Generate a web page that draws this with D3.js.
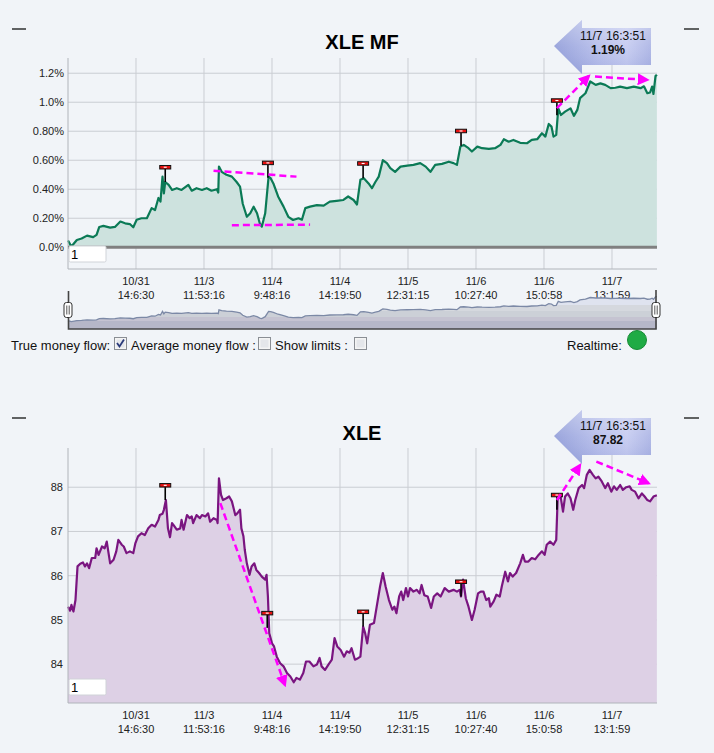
<!DOCTYPE html>
<html><head><meta charset="utf-8">
<script src="https://cdn.jsdelivr.net/npm/d3@7"></script>
<style>
body{margin:0;background:#f1f4f8;}
svg{display:block;font-family:"Liberation Sans",Arial,sans-serif;}
</style>
</head><body>
<svg id="c" width="714" height="753"></svg>
<script>
// ---------- DATA ----------
// x position in "slot" units (100 = first labelled tick)
const mfTime = [0,5,13,20,28,37,42,46,52,62,69,77,84,91,96,101,108,116,123,128,133,136,139,141,143,148,153,160,167,177,182,189,197,204,211,219,221,222,226,233,241,248,253,257,263,268,273,278,282,285,290,295,298,302,309,317,324,331,339,344,349,356,366,376,385,395,405,412,420,425,430,435,442,447,452,457,463,469,474,481,489,499,508,518,526,533,540,550,560,567,572,577,582,589,594,602,609,619,628,636,641,648,655,665,675,682,690,697,702,707,711,714,718,721,725,731,739,744,749,753,761,768,776,783,790,798,805,812,822,832,842,847,852,856,859,861,864,866];
const mfValue = [0.046,0.005,0.05,0.06,0.08,0.07,0.085,0.14,0.147,0.135,0.14,0.177,0.165,0.16,0.138,0.19,0.2,0.2,0.27,0.257,0.34,0.315,0.487,0.372,0.45,0.43,0.395,0.407,0.395,0.43,0.39,0.407,0.395,0.407,0.39,0.4,0.377,0.556,0.52,0.5,0.487,0.45,0.418,0.30,0.21,0.234,0.28,0.234,0.165,0.142,0.234,0.487,0.476,0.44,0.35,0.28,0.21,0.188,0.2,0.19,0.27,0.28,0.29,0.287,0.315,0.32,0.326,0.35,0.326,0.295,0.465,0.476,0.44,0.407,0.45,0.487,0.60,0.58,0.545,0.52,0.556,0.563,0.568,0.58,0.556,0.52,0.568,0.575,0.59,0.58,0.568,0.694,0.706,0.683,0.66,0.694,0.683,0.678,0.683,0.706,0.745,0.728,0.74,0.72,0.717,0.74,0.745,0.786,0.763,0.85,0.832,0.763,0.775,0.958,0.912,0.935,0.958,0.906,0.947,1.028,1.062,1.143,1.12,1.13,1.12,1.097,1.10,1.108,1.097,1.108,1.097,1.11,1.062,1.067,1.108,1.057,1.18,1.19];

const pxTime = [0,3,5,8,11,14,18,22,25,28,31,35,40,42,45,50,54,57,62,67,71,74,79,82,86,91,96,99,103,108,113,118,123,128,133,135,139,141,144,147,150,153,155,160,165,167,170,175,179,182,184,189,194,197,202,206,209,214,219,220,222,225,228,233,237,241,243,246,249,253,255,258,260,263,267,270,274,277,281,285,290,292,294,296,300,303,307,312,317,322,327,332,336,341,346,350,355,361,366,370,373,378,383,388,392,396,401,406,410,414,417,422,425,430,434,437,440,444,450,454,459,463,467,472,477,480,483,487,490,493,497,500,503,508,513,517,520,524,529,534,538,543,548,554,560,567,572,576,578,581,585,589,594,598,603,607,611,615,619,621,626,630,635,638,643,647,650,654,659,665,669,672,677,682,687,692,697,701,704,709,714,718,720,724,728,731,735,739,743,746,751,756,759,763,767,772,776,780,785,790,794,799,803,807,812,816,821,826,829,834,839,844,848,852,856,861,866];
const pxValue = [85.30,85.21,85.34,85.19,85.45,86.21,86.27,86.30,86.21,86.28,86.17,86.40,86.40,86.62,86.47,86.66,86.62,86.77,86.28,86.36,86.55,86.81,86.70,86.66,86.51,86.55,86.51,86.73,86.89,86.96,86.92,87.07,87.15,87.11,87.26,87.37,87.40,87.49,87.71,87.07,86.87,87.19,87.15,87.04,87.07,87.26,87.04,87.37,87.30,87.34,87.19,87.37,87.30,87.37,87.34,87.41,87.22,87.30,87.26,87.19,88.20,87.83,87.71,87.75,87.79,87.68,87.56,87.37,87.41,87.49,87.07,86.89,86.58,86.28,86.02,86.21,86.28,86.13,86.06,85.98,85.91,86.02,85.53,84.70,84.47,84.40,84.17,84.02,83.95,83.80,83.72,83.59,83.69,83.65,83.80,84.06,84.06,83.95,83.99,84.14,83.95,83.87,83.99,84.10,84.59,84.40,84.32,84.17,84.29,84.26,84.36,84.10,84.12,84.17,84.85,84.70,84.47,84.89,84.93,85.30,85.76,86.06,85.76,85.45,85.23,85.30,85.15,85.53,85.64,85.45,85.72,85.53,85.72,85.64,85.68,85.60,85.79,85.56,85.53,85.27,85.53,85.60,85.53,85.72,85.64,85.68,85.64,85.68,85.53,85.91,85.49,85.30,85.00,85.23,85.60,85.64,85.64,85.45,85.49,85.30,85.42,85.57,85.53,85.76,86.09,85.87,86.06,85.98,86.06,86.28,86.47,86.32,86.32,86.40,86.37,86.47,86.55,86.47,86.70,86.77,86.70,86.81,87.71,87.83,87.45,87.79,87.86,87.75,87.49,87.71,87.98,88.05,87.98,88.28,88.39,88.28,88.20,88.24,88.13,87.98,88.09,87.90,88.02,87.94,88.05,87.94,88.00,88.02,87.94,87.90,87.75,87.86,87.79,87.71,87.68,87.79,87.82];

const tickPos  = [100,200,300,400,500,600,700,800];
const tickDate = ["10/31","11/3","11/4","11/4","11/5","11/6","11/6","11/7"];
const tickTime = ["14:6:30","11:53:16","9:48:16","14:19:50","12:31:15","10:27:40","15:0:58","13:1:59"];
const lastLabel = "11/7 16:3:51";

const mfTicks = [0,0.2,0.4,0.6,0.8,1.0,1.2];
const mfTickText = ["0.0%","0.20%","0.40%","0.60%","0.80%","1.0%","1.2%"];
const pxTicks = [84,85,86,87,88];

const mfFlagTime = [143,294,434,578,719];
const mfFlagValue = [0.45,0.48,0.476,0.70,0.91];
const pxFlagTime = [143,293,434,578,719];
const pxFlagValue = [87.71,84.82,84.85,85.53,87.49];

// magenta annotations [t1, v1, t2, v2, arrowhead]
const mfNotes = [[214,0.528,336,0.487,0],[241,0.152,356,0.156,0],[719,0.959,766,1.181,1],[775,1.177,852,1.154,1]];
const pxNotes = [[224,87.64,319,83.53,1],[719,87.71,753,88.50,1],[777,88.58,854,88.09,1]];

// ---------- DRAW ----------
const svg = d3.select("#c");
svg.append("rect").attr("width",714).attr("height",753).attr("fill","#f1f4f8");
const defs = svg.append("defs");
defs.append("marker").attr("id","ah").attr("viewBox","0 0 10 10").attr("refX",8).attr("refY",5)
  .attr("markerWidth",12).attr("markerHeight",12).attr("markerUnits","userSpaceOnUse").attr("orient","auto")
  .append("path").attr("d","M0,0L10,5L0,10Z").attr("fill","#ff00ff");
const cg = defs.append("linearGradient").attr("id","callG").attr("x1","0").attr("x2","1").attr("y1","0").attr("y2","0");
cg.append("stop").attr("offset","0").attr("stop-color","#8f9bd8");
cg.append("stop").attr("offset","0.45").attr("stop-color","#b3bbea");
cg.append("stop").attr("offset","0.75").attr("stop-color","#c3c9f0");
cg.append("stop").attr("offset","1").attr("stop-color","#a9b2e4");
const cg2 = defs.append("linearGradient").attr("id","callG2").attr("x1","0").attr("x2","0").attr("y1","0").attr("y2","1");
cg2.append("stop").attr("offset","0").attr("stop-color","#ffffff").attr("stop-opacity","0.35");
cg2.append("stop").attr("offset","0.5").attr("stop-color","#ffffff").attr("stop-opacity","0.1");
cg2.append("stop").attr("offset","1").attr("stop-color","#5060b0").attr("stop-opacity","0.15");

const x = d3.scaleLinear().domain([0,866.2]).range([68,657]);

function dash(y){
  svg.append("line").attr("x1",12).attr("x2",26).attr("y1",y).attr("y2",y).attr("stroke","#000").attr("stroke-width",1.2);
  svg.append("line").attr("x1",684).attr("x2",699).attr("y1",y).attr("y2",y).attr("stroke","#000").attr("stroke-width",1.2);
}

function chart(o){
  const g = svg.append("g");
  const y = o.y;
  // grid
  g.selectAll(".hg").data(o.yTicks).join("line")
    .attr("x1",68).attr("x2",657).attr("y1",d=>y(d)).attr("y2",d=>y(d))
    .attr("stroke","#cacdd3").attr("stroke-width",1);
  g.selectAll(".vg").data(tickPos).join("line")
    .attr("x1",d=>x(d)).attr("x2",d=>x(d)).attr("y1",o.top).attr("y2",o.bottom)
    .attr("stroke","#cacdd3").attr("stroke-width",1);
  // area & line
  const data = o.t.map((t,i)=>[t,o.v[i]]);
  g.append("path").datum(data)
    .attr("d",d3.area().x(d=>x(d[0])).y0(o.base).y1(d=>y(d[1])))
    .attr("fill",o.fill);
  g.append("path").datum(data)
    .attr("d",d3.line().x(d=>x(d[0])).y(d=>y(d[1])))
    .attr("fill","none").attr("stroke",o.color).attr("stroke-width",2.2).attr("stroke-linejoin","round");
  // axes lines
  g.append("line").attr("x1",68).attr("x2",68).attr("y1",o.top).attr("y2",o.bottom).attr("stroke","#b0b4ba");
  g.append("line").attr("x1",68).attr("x2",657).attr("y1",o.bottom).attr("y2",o.bottom).attr("stroke","#b0b4ba");
  if(o.zero!==undefined){
    g.append("line").attr("x1",68).attr("x2",657).attr("y1",y(o.zero)).attr("y2",y(o.zero)).attr("stroke","#808080").attr("stroke-width",3);
  }
  // y labels
  g.selectAll(".yl").data(o.yTicks).join("text")
    .attr("x",o.labelX).attr("y",d=>y(d)+4).attr("text-anchor","end")
    .attr("font-size","11px").attr("fill","#222").text((d,i)=>o.yText[i]);
  // x labels
  const xl = g.selectAll(".xl").data(tickPos).join("text")
    .attr("text-anchor","middle").attr("font-size","11px").attr("fill","#222");
  xl.append("tspan").attr("x",d=>x(d)).attr("y",o.bottom+16).text((d,i)=>tickDate[i]);
  xl.append("tspan").attr("x",d=>x(d)).attr("y",o.bottom+30).text((d,i)=>tickTime[i]);
  // flags
  o.flagT.forEach((t,i)=>{
    const fx = x(t), fy = y(o.flagV[i]);
    g.append("line").attr("x1",fx).attr("x2",fx).attr("y1",fy).attr("y2",fy-13).attr("stroke","#000").attr("stroke-width",1.6);
    g.append("rect").attr("x",fx-5.5).attr("y",fy-16.5).attr("width",11).attr("height",3.5)
      .attr("fill","#e81010").attr("stroke","#111").attr("stroke-width",1);
    g.append("rect").attr("x",fx-1.5).attr("y",fy-15.3).attr("width",3).attr("height",1.1).attr("fill","#fff");
  });
  // annotations
  o.notes.forEach(n=>{
    const l = g.append("line").attr("x1",x(n[0])).attr("y1",y(n[1])).attr("x2",x(n[2])).attr("y2",y(n[3]))
      .attr("stroke","#ff00ff").attr("stroke-width",2.5).attr("stroke-dasharray","7,4");
    if(n[4]) l.attr("marker-end","url(#ah)");
  });
  // input box
  g.append("rect").attr("x",69).attr("y",o.boxY).attr("width",37).attr("height",16)
    .attr("fill","#fff").attr("stroke","#d0d3d8").attr("stroke-width",1).attr("rx",1.5);
  g.append("text").attr("x",71).attr("y",o.boxY+13).attr("font-size","13px").attr("fill","#000").text("1");
  // title
  svg.append("text").attr("x",362).attr("y",o.titleY).attr("text-anchor","middle")
    .attr("font-size","20px").attr("font-weight","bold").attr("fill","#000").text(o.title);
  // callout
  const b = o.callY;
  const pts = [[554,b+18],[582,b-8],[582,b],[651,b],[651,b+37],[582,b+37],[582,b+46]];
  const poly = "M"+pts.map(p=>p.join(",")).join("L")+"Z";
  svg.append("path").attr("d",poly).attr("fill","url(#callG)");
  svg.append("path").attr("d",poly).attr("fill","url(#callG2)");
  svg.append("text").attr("x",613).attr("y",b+12).attr("text-anchor","middle").attr("font-size","12px").attr("fill","#111").text(lastLabel);
  svg.append("text").attr("x",608).attr("y",b+26).attr("text-anchor","middle").attr("font-size","12px")
    .attr("font-weight","bold").attr("fill","#111").text(o.lastText);
  dash(o.dashY);
}

const yMF = d3.scaleLinear().domain([-0.15,1.305]).range([269,58]);
chart({y:yMF, top:58, bottom:269, base:yMF(0), zero:0, yTicks:mfTicks, yText:mfTickText, labelX:64,
  t:mfTime, v:mfValue, color:"#0b7a56", fill:"#cde2de", flagT:mfFlagTime, flagV:mfFlagValue, notes:mfNotes,
  boxY:246, title:"XLE MF", titleY:49, callY:28, lastText:d3.format(".2f")(mfValue[mfValue.length-1])+"%", dashY:29});

const yPX = d3.scaleLinear().domain([83.115,88.88]).range([703.3,448.3]);
chart({y:yPX, top:448, bottom:703, base:703, yTicks:pxTicks, yText:pxTicks.map(String), labelX:63,
  t:pxTime, v:pxValue, color:"#7a1580", fill:"#ddd0e5", flagT:pxFlagTime, flagV:pxFlagValue, notes:pxNotes,
  boxY:679, title:"XLE", titleY:440, callY:418, lastText:d3.format(".2f")(pxValue[pxValue.length-1]), dashY:418});

// ---------- NAVIGATOR ----------
const navY = d3.scaleLinear().domain([-0.35,1.5]).range([329,290]);
const ng = defs.append("linearGradient").attr("id","navG").attr("gradientUnits","userSpaceOnUse")
  .attr("x1",0).attr("x2",0).attr("y1",290).attr("y2",329);
[[0,"#dfe3ef"],[0.38,"#dfe3ef"],[0.38,"#d5d8de"],[0.54,"#d5d8de"],[0.54,"#ccd0d7"],[0.70,"#ccd0d7"],[0.70,"#c5c3d1"],[0.80,"#c5c3d1"],[0.80,"#b6b7c8"],[1,"#b6b7c8"]]
  .forEach(s=>ng.append("stop").attr("offset",s[0]).attr("stop-color",s[1]));
const navData = mfTime.map((t,i)=>[t,mfValue[i]]);
svg.append("path").datum(navData)
  .attr("d",d3.area().x(d=>x(d[0])).y0(329).y1(d=>navY(d[1])))
  .attr("fill","url(#navG)");
svg.append("path").datum(navData)
  .attr("d",d3.line().x(d=>x(d[0])).y(d=>navY(d[1])))
  .attr("fill","none").attr("stroke","#7c89a6").attr("stroke-width",1.3);
svg.append("path").attr("d","M68.5,291V329H656V290").attr("fill","none").attr("stroke","#444").attr("stroke-width",1.6);
[68,656].forEach(hx=>{
  svg.append("rect").attr("x",hx-4).attr("y",302.5).attr("width",8).attr("height",15).attr("rx",2.5)
    .attr("fill","#fff").attr("stroke","#333").attr("stroke-width",1);
  svg.append("line").attr("x1",hx-1.2).attr("x2",hx-1.2).attr("y1",305.5).attr("y2",314.5).attr("stroke","#555");
  svg.append("line").attr("x1",hx+1.2).attr("x2",hx+1.2).attr("y1",305.5).attr("y2",314.5).attr("stroke","#555");
});

// ---------- CONTROLS ----------
const ctrl = [["True money flow:",11],["Average money flow :",131],["Show limits :",275],["Realtime:",567]];
svg.selectAll(".ct").data(ctrl).join("text").attr("x",d=>d[1]).attr("y",350)
  .attr("font-size","13px").attr("fill","#111").text(d=>d[0]);
const boxes = [[114,true],[258,false],[354,false]];
boxes.forEach(bx=>{
  svg.append("rect").attr("x",bx[0]+0.5).attr("y",337.5).attr("width",12).attr("height",12)
    .attr("fill","#f4f4f4").attr("stroke","#8a8e94").attr("stroke-width",1);
  svg.append("rect").attr("x",bx[0]+2.5).attr("y",339.5).attr("width",8).attr("height",8)
    .attr("fill","#e4e6ea");
  if(bx[1]) svg.append("path").attr("d",`M${bx[0]+3},${343}L${bx[0]+5.5},${346.5}L${bx[0]+10},${339.5}`)
    .attr("fill","none").attr("stroke","#2a3a7a").attr("stroke-width",1.8);
});
svg.append("circle").attr("cx",637).attr("cy",340).attr("r",9.5).attr("fill","#1fab45").attr("stroke","#178a36").attr("stroke-width",1);
</script>
</body></html>
